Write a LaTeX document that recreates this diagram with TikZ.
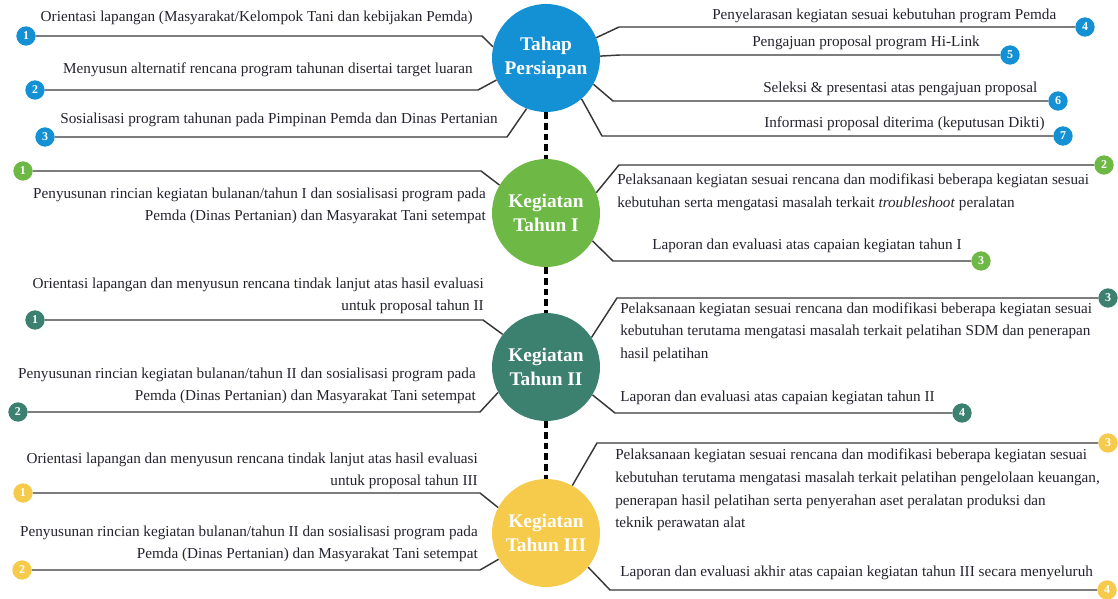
\documentclass[tikz,border=0pt]{standalone}
\usepackage{fontspec}
\setmainfont{Liberation Serif}
\usepackage{tikz}
\usetikzlibrary{calc,positioning}

\definecolor{cblue}{RGB}{20,145,212}
\definecolor{cgreen}{RGB}{110,185,70}
\definecolor{cteal}{RGB}{60,128,112}
\definecolor{cyellow}{RGB}{246,203,76}
\definecolor{linegray}{RGB}{55,55,55}
\definecolor{txt}{RGB}{35,35,45}

\begin{document}
\begin{tikzpicture}[x=0.75pt,y=-0.75pt,
    stage/.style={circle,fill=#1,minimum size=81pt,inner sep=0pt,text=white,
      font=\fontsize{14.5}{17.5}\selectfont\bfseries,align=center},
    badge/.style={circle,fill=#1,minimum size=14.5pt,inner sep=0pt,text=white,
      font=\fontsize{9}{9}\selectfont\bfseries},
    lbl/.style={font=\fontsize{11.4}{17}\selectfont,inner sep=0pt,text=txt},
    link/.style={draw=linegray,line width=1.1pt},
    dots/.style={draw=black,line width=3pt,dash pattern=on 5pt off 3pt}]
  \useasboundingbox (0,0) rectangle (1118,599);

  % tahapan
  \node[stage=cblue] (persiapan) at (546,58) {Tahap\\Persiapan};
  \node[stage=cgreen] (tahun1) at (546,213) {Kegiatan\\Tahun I};
  \node[stage=cteal] (tahun2) at (546,367) {Kegiatan\\Tahun II};
  \node[stage=cyellow] (tahun3) at (546,533) {Kegiatan\\Tahun III};
  \draw[dots] (persiapan) -- (tahun1);
  \draw[dots] (tahun1) -- (tahun2);
  \draw[dots] (tahun2) -- (tahun3);

  % tahap persiapan
  \node[badge=cblue] (p1) at (26,36) {1};
  \node[badge=cblue] (p2) at (35,90) {2};
  \node[badge=cblue] (p3) at (45,137) {3};
  \node[badge=cblue] (p4) at (1085,27) {4};
  \node[badge=cblue] (p5) at (1010,55) {5};
  \node[badge=cblue] (p6) at (1058,101) {6};
  \node[badge=cblue] (p7) at (1063,136) {7};
  \draw[link] (p1) -- (482,36) -- (persiapan.168);
  \draw[link] (p2) -- (478,90) -- (persiapan.204);
  \draw[link] (p3) -- (507,137) -- (persiapan.249);
  \draw[link] (p4) -- (619,27) -- (persiapan.22);
  \draw[link] (p5) -- (620,55) -- (persiapan.2);
  \draw[link] (p6) -- (613,101) -- (persiapan.331);
  \draw[link] (p7) -- (602,136) -- (persiapan.311);
  \node[lbl,anchor=east] (tp1) at (473,18) {Orientasi lapangan (Masyarakat/Kelompok Tani dan kebijakan Pemda)};
  \node[lbl,anchor=east] (tp2) at (473,70) {Menyusun alternatif rencana program tahunan disertai target luaran};
  \node[lbl,anchor=east] (tp3) at (498,120) {Sosialisasi program tahunan pada Pimpinan Pemda dan Dinas Pertanian};
  \node[lbl,anchor=west] (tp4) at (712,16) {Penyelarasan kegiatan sesuai kebutuhan program Pemda};
  \node[lbl,anchor=west] (tp5) at (752,43) {Pengajuan proposal program Hi-Link};
  \node[lbl,anchor=west] (tp6) at (763,89) {Seleksi \& presentasi atas pengajuan proposal};
  \node[lbl,anchor=west] (tp7) at (764,124) {Informasi proposal diterima (keputusan Dikti)};

  % tahun I
  \node[badge=cgreen] (a1) at (23,171) {1};
  \node[badge=cgreen] (a2) at (1104,165) {2};
  \node[badge=cgreen] (a3) at (981,261) {3};
  \draw[link] (a1) -- (481,171) -- (tahun1.149);
  \draw[link] (a2) -- (619,165) -- (tahun1.22);
  \draw[link] (a3) -- (613,261) -- (tahun1.329);
  \node[lbl,anchor=east,align=right] (ta1) at (486,206) {Penyusunan rincian kegiatan bulanan/tahun I dan sosialisasi program pada\\Pemda (Dinas Pertanian) dan Masyarakat Tani setempat};
  \node[lbl,anchor=west,align=left] (ta2) at (617,192) {Pelaksanaan kegiatan sesuai rencana dan modifikasi beberapa kegiatan sesuai\\kebutuhan serta mengatasi masalah terkait \textit{troubleshoot} peralatan};
  \node[lbl,anchor=west] (ta3) at (652,246) {Laporan dan evaluasi atas capaian kegiatan tahun I};

  % tahun II
  \node[badge=cteal] (b1) at (35,320) {1};
  \node[badge=cteal] (b2) at (18,412) {2};
  \node[badge=cteal] (b3) at (1108,298) {3};
  \node[badge=cteal] (b4) at (962,413) {4};
  \draw[link] (b1) -- (483,320) -- (tahun2.143);
  \draw[link] (b2) -- (480,412) -- (tahun2.208);
  \draw[link] (b3) -- (617,298) -- (tahun2.33);
  \draw[link] (b4) -- (615,413) -- (tahun2.329);
  \node[lbl,anchor=east,align=right] (tb1) at (484,296) {Orientasi lapangan dan menyusun rencana tindak lanjut atas hasil evaluasi\\untuk proposal tahun II};
  \node[lbl,anchor=east,align=right] (tb2) at (476,386) {Penyusunan rincian kegiatan bulanan/tahun II dan sosialisasi program pada\\Pemda (Dinas Pertanian) dan Masyarakat Tani setempat};
  \node[lbl,anchor=west,align=left] (tb3) at (620,332) {Pelaksanaan kegiatan sesuai rencana dan modifikasi beberapa kegiatan sesuai\\kebutuhan terutama mengatasi masalah terkait pelatihan SDM dan penerapan\\hasil pelatihan};
  \node[lbl,anchor=west] (tb4) at (620,398) {Laporan dan evaluasi atas capaian kegiatan tahun II};

  % tahun III
  \node[badge=cyellow] (c1) at (23,493) {1};
  \node[badge=cyellow] (c2) at (22,570) {2};
  \node[badge=cyellow] (c3) at (1108,443) {3};
  \node[badge=cyellow] (c4) at (1107,590) {4};
  \draw[link] (c1) -- (480,493) -- (tahun3.152);
  \draw[link] (c2) -- (480,570) -- (tahun3.209);
  \draw[link] (c3) -- (597,443) -- (tahun3.61);
  \draw[link] (c4) -- (610,590) -- (tahun3.321);
  \node[lbl,anchor=east,align=right] (tc1) at (478,471) {Orientasi lapangan dan menyusun rencana tindak lanjut atas hasil evaluasi\\untuk proposal tahun III};
  \node[lbl,anchor=east,align=right] (tc2) at (478,544) {Penyusunan rincian kegiatan bulanan/tahun II dan sosialisasi program pada\\Pemda (Dinas Pertanian) dan Masyarakat Tani setempat};
  \node[lbl,anchor=west,align=left] (tc3) at (615,490) {Pelaksanaan kegiatan sesuai rencana dan modifikasi beberapa kegiatan sesuai\\kebutuhan terutama mengatasi masalah terkait pelatihan pengelolaan keuangan,\\penerapan hasil pelatihan serta penyerahan aset peralatan produksi dan\\teknik perawatan alat};
  \node[lbl,anchor=west] (tc4) at (620,573) {Laporan dan evaluasi akhir atas capaian kegiatan tahun III secara menyeluruh};
\end{tikzpicture}
\end{document}
